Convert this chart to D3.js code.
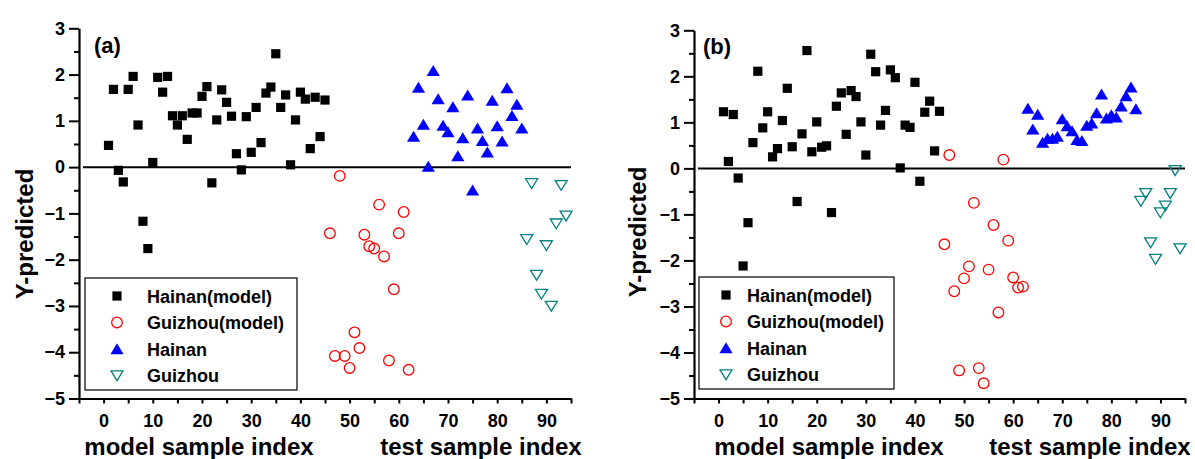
<!DOCTYPE html>
<html>
<head>
<meta charset="utf-8">
<script src="https://cdn.jsdelivr.net/npm/d3@7"></script>
<style>
  html, body { margin: 0; padding: 0; background: #fff; }
  svg text { font-family: "Liberation Sans", Arial, sans-serif; font-weight: bold; }
</style>
</head>
<body>
<svg id="chart" width="1195" height="459"></svg>
<script>
// ---------- data ----------
const yTicks = [-5, -4, -3, -2, -1, 0, 1, 2, 3];
const xTicks = [0, 10, 20, 30, 40, 50, 60, 70, 80, 90];
const seriesNames = ["Hainan(model)", "Guizhou(model)", "Hainan", "Guizhou"];
const panelLabels = ["(a)", "(b)"];
const xTitles = ["model sample index", "test sample index"];
const yTitle = "Y-predicted";

const hainanModelX = [1,2,3,4,5,6,7,8,9,10,11,12,13,14,15,16,17,18,19,20,21,22,23,24,25,26,27,28,29,30,31,32,33,34,35,36,37,38,39,40,41,42,43,44,45];
const guizhouModelX = [46,47,48,49,50,51,52,53,54,55,56,57,58,59,60,61,62];
const hainanTestX = [63,64,65,66,67,68,69,70,71,72,73,74,75,76,77,78,79,80,81,82,83,84,85];
const guizhouTestX = [86,87,88,89,90,91,92,93,94];

// panel (a)
const aHainanModelY = [0.47,1.68,-0.07,-0.32,1.68,1.96,0.91,-1.17,-1.76,0.10,1.94,1.62,1.96,1.11,0.91,1.11,0.60,1.17,1.17,1.53,1.74,-0.34,1.02,1.67,1.40,1.10,0.29,-0.06,1.09,0.32,1.29,0.53,1.60,1.73,2.45,1.29,1.56,0.05,1.02,1.62,1.47,0.40,1.51,0.66,1.45];
const aGuizhouModelY = [-1.43,-4.08,-0.19,-4.08,-4.34,-3.57,-3.91,-1.46,-1.71,-1.76,-0.81,-1.93,-4.18,-2.64,-1.43,-0.97,-4.38];
const aHainanTestY = [0.66,1.72,0.92,0.01,2.08,1.47,0.90,0.76,1.30,0.24,0.63,1.55,-0.50,0.84,0.57,0.32,1.44,0.89,0.56,1.71,1.11,1.35,0.84];
const aGuizhouTestY = [-1.56,-0.35,-2.33,-2.74,-1.69,-3.00,-1.22,-0.39,-1.05];

// panel (b)
const bHainanModelY = [1.23,0.15,1.17,-0.21,-2.12,-1.18,0.56,2.11,0.88,1.23,0.25,0.43,1.04,1.74,0.47,-0.72,0.75,2.56,0.36,1.01,0.46,0.49,-0.96,1.35,1.64,0.74,1.69,1.56,1.01,0.29,2.48,2.10,0.94,1.26,2.14,1.97,0.01,0.94,0.89,1.87,-0.28,1.22,1.46,0.38,1.24];
const bGuizhouModelY = [-1.65,0.29,-2.67,-4.39,-2.39,-2.13,-0.75,-4.34,-4.67,-2.20,-1.23,-3.13,0.19,-1.57,-2.37,-2.59,-2.57];
const bHainanTestY = [1.30,0.85,1.17,0.56,0.65,0.65,0.69,1.07,0.92,0.81,0.62,0.60,0.93,0.98,1.20,1.61,1.09,1.16,1.11,1.35,1.57,1.76,1.29];
const bGuizhouTestY = [-0.71,-0.54,-1.61,-1.97,-0.96,-0.81,-0.54,-0.04,-1.74];

// ---------- drawing ----------
const svg = d3.select("#chart");
const styles = [
  {shape: "square", fill: "#000", stroke: "none"},
  {shape: "circle", fill: "none", stroke: "#ff0000"},
  {shape: "up", fill: "#0000ff", stroke: "none"},
  {shape: "down", fill: "none", stroke: "#008080"}
];

function markerPath(shape) {
  if (shape === "square") return "M-4.6,-4.6H4.6V4.6H-4.6Z";
  if (shape === "circle") return "M5.3,0A5.3,5.3 0 1,1 -5.3,0A5.3,5.3 0 1,1 5.3,0Z";
  if (shape === "up") return "M0,-5.8L6.6,5.2L-6.6,5.2Z";
  return "M-6,-4.6L6,-4.6L0,5.2Z";
}

function drawPanel(p) {
  const g = svg.append("g");
  const x = d3.scaleLinear().domain([-5, 95]).range([p.left, p.right]);
  const y = d3.scaleLinear().domain([-5, 3]).range([p.bottom, p.top]);

  // zero line
  g.append("line")
    .attr("x1", x(-4.2)).attr("x2", x(95))
    .attr("y1", y(0)).attr("y2", y(0))
    .attr("stroke", "#000").attr("stroke-width", 2);

  // y axis minor
  const yMinor = d3.range(-4.5, 3, 1);
  g.append("g").attr("transform", `translate(${p.left},0)`)
    .call(d3.axisLeft(y).tickValues(yMinor).tickSize(5).tickFormat(""))
    .call(s => s.select(".domain").remove())
    .call(s => s.selectAll("line").attr("stroke-width", 2));
  // y axis major
  g.append("g").attr("transform", `translate(${p.left},0)`)
    .call(d3.axisLeft(y).tickValues(yTicks).tickSize(10).tickPadding(4).tickSizeOuter(0))
    .call(s => s.select(".domain").attr("stroke-width", 2.2))
    .call(s => s.selectAll("line").attr("stroke-width", 2))
    .call(s => s.selectAll("text").attr("font-size", 18).attr("fill", "#000"));

  // x axis minor
  const xMinor = d3.range(-5, 96, 10);
  g.append("g").attr("transform", `translate(0,${p.bottom})`)
    .call(d3.axisBottom(x).tickValues(xMinor).tickSize(5).tickFormat(""))
    .call(s => s.select(".domain").remove())
    .call(s => s.selectAll("line").attr("stroke-width", 2));
  g.append("g").attr("transform", `translate(0,${p.bottom})`)
    .call(d3.axisBottom(x).tickValues(xTicks).tickSize(5).tickPadding(11).tickSizeOuter(0))
    .call(s => s.select(".domain").attr("stroke-width", 2.2))
    .call(s => s.selectAll("line").attr("stroke-width", 2))
    .call(s => s.selectAll("text").attr("font-size", 18).attr("fill", "#000"));

  // titles
  g.append("text").attr("x", p.xt1).attr("y", 455).attr("font-size", 24).attr("text-anchor", "middle").text(xTitles[0]);
  g.append("text").attr("x", p.xt2).attr("y", 455).attr("font-size", 24).attr("text-anchor", "middle").text(xTitles[1]);
  g.append("text").attr("transform", `translate(${p.ytx},${p.yty}) rotate(-90)`)
    .attr("font-size", 24).attr("text-anchor", "middle").text(yTitle);
  g.append("text").attr("x", p.lblx).attr("y", p.lbly).attr("font-size", 22).text(p.label);

  // points
  p.series.forEach((s, i) => {
    const st = styles[i];
    g.append("g").selectAll("path").data(s.xs.map((v, k) => [v, s.ys[k]]))
      .join("path")
      .attr("transform", d => `translate(${x(d[0])},${y(d[1])})`)
      .attr("d", markerPath(st.shape))
      .attr("fill", st.fill).attr("stroke", st.stroke).attr("stroke-width", 1.3);
  });

  // legend
  const lg = g.append("g");
  lg.append("rect").attr("x", p.lx0).attr("y", p.ly0).attr("width", p.lx1 - p.lx0).attr("height", p.ly1 - p.ly0)
    .attr("fill", "#fff").attr("stroke", "#000").attr("stroke-width", 1.2);
  seriesNames.forEach((n, i) => {
    const st = styles[i];
    const ry = p.ly0 + 18 + i * 26.5;
    lg.append("path").attr("transform", `translate(${p.lmx},${ry})`)
      .attr("d", markerPath(st.shape)).attr("fill", st.fill).attr("stroke", st.stroke).attr("stroke-width", 1.3);
    lg.append("text").attr("x", p.ltx).attr("y", ry + 6.5).attr("font-size", 18).text(n);
  });
}

drawPanel({
  left: 79, right: 571, top: 28.3, bottom: 398.5,
  xt1: 199, xt2: 481, ytx: 33, yty: 234,
  lblx: 94, lbly: 53, label: panelLabels[0],
  lx0: 85, lx1: 297, ly0: 278, ly1: 390, lmx: 117, ltx: 147,
  series: [
    {xs: hainanModelX, ys: aHainanModelY},
    {xs: guizhouModelX, ys: aGuizhouModelY},
    {xs: hainanTestX, ys: aHainanTestY},
    {xs: guizhouTestX, ys: aGuizhouTestY}
  ]
});
drawPanel({
  left: 694, right: 1185, top: 30.3, bottom: 398.5,
  xt1: 829, xt2: 1090, ytx: 646, yty: 232,
  lblx: 703, lbly: 54, label: panelLabels[1],
  lx0: 699, lx1: 894, ly0: 277, ly1: 389, lmx: 726, ltx: 747,
  series: [
    {xs: hainanModelX, ys: bHainanModelY},
    {xs: guizhouModelX, ys: bGuizhouModelY},
    {xs: hainanTestX, ys: bHainanTestY},
    {xs: guizhouTestX, ys: bGuizhouTestY}
  ]
});
</script>
</body>
</html>
